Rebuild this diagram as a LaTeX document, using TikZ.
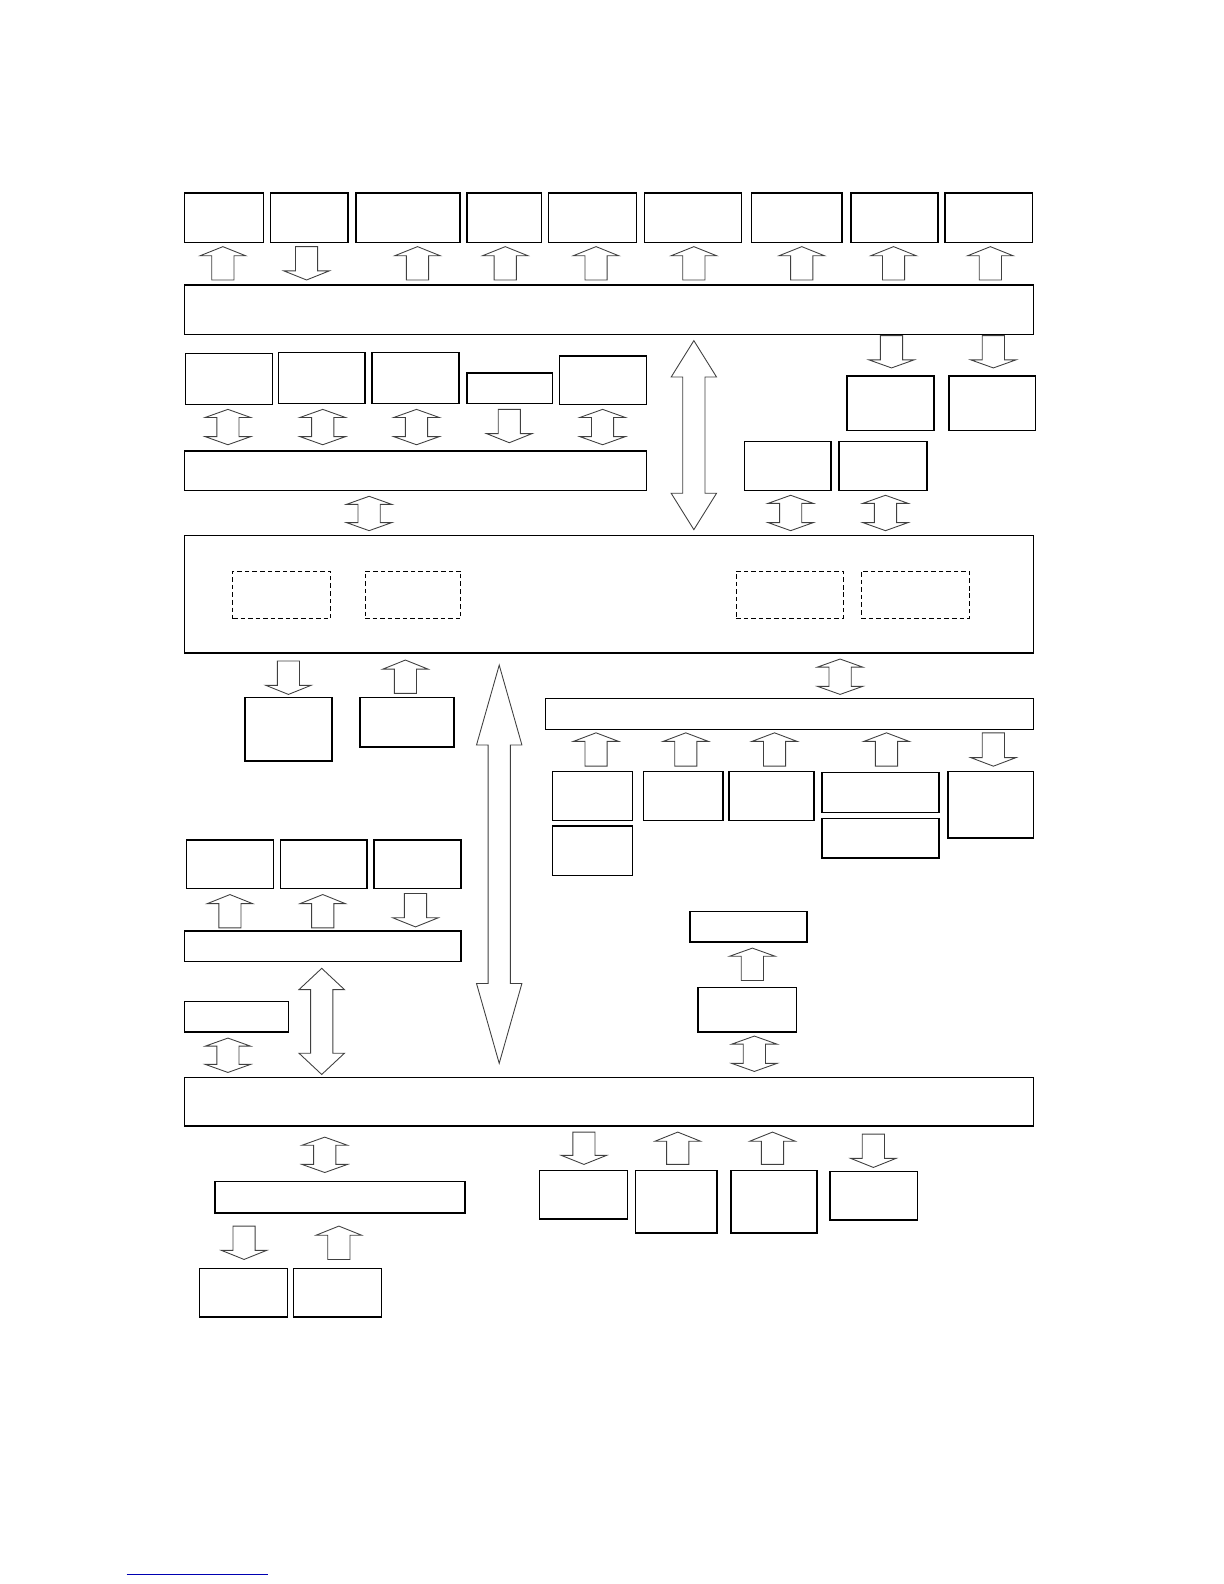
\documentclass[tikz,border=0pt]{standalone}
\usepackage{tikz}
\usetikzlibrary{fit}

\tikzset{
  box/.style={draw, line width=0.8pt, inner sep=0pt},
  dbox/.style={draw, line width=0.6pt, dash pattern=on 2.6pt off 1.7pt, inner sep=0pt},
  blockarrow/.style={draw=black!75, line width=0.5pt, fill=white, line join=miter},
  pics/up arrow/.style args={#1/#2}{code={
    \draw[blockarrow] (-11,0) -- (-11,-#1+#2) -- (-22.5,-#1+#2) -- (0,-#1)
      -- (22.5,-#1+#2) -- (11,-#1+#2) -- (11,0) -- cycle;}},
  pics/down arrow/.style args={#1/#2}{code={
    \draw[blockarrow] (-11,0) -- (-11,#1-#2) -- (-22.5,#1-#2) -- (0,#1)
      -- (22.5,#1-#2) -- (11,#1-#2) -- (11,0) -- cycle;}},
  pics/both arrow/.style args={#1/#2}{code={
    \draw[blockarrow] (0,0) -- (22.5,#2) -- (11,#2) -- (11,#1-#2) -- (22.5,#1-#2)
      -- (0,#1) -- (-22.5,#1-#2) -- (-11,#1-#2) -- (-11,#2) -- (-22.5,#2) -- cycle;}}
}

\begin{document}
\begin{tikzpicture}[x=0.020174cm, y=-0.020216cm]

  \useasboundingbox (0,0) rectangle (1213.4,1567.1);

  % top row
  \node[box, fit={(183,191) (261,240)}] (top1) {};
  \node[box, fit={(268,191) (345,240)}] (top2) {};
  \node[box, fit={(353,191) (456,240)}] (top3) {};
  \node[box, fit={(463,191) (537,240)}] (top4) {};
  \node[box, fit={(544,191) (631,240)}] (top5) {};
  \node[box, fit={(639,191) (735,240)}] (top6) {};
  \node[box, fit={(745,191) (835,240)}] (top7) {};
  \node[box, fit={(844,191) (930,240)}] (top8) {};
  \node[box, fit={(937,191) (1024,240)}] (top9) {};

  \foreach \x in {221,414,501,591,688,795,886,982}
    \pic at (\x,277) {up arrow=33/9};
  \pic at (304,244) {down arrow=33/9};

  \node[box, fit={(183,282) (1025,331)}] (bus1) {};

  % second row
  \node[box, fit={(184,350) (270,400)}] (mid1) {};
  \node[box, fit={(276,349) (362,399)}] (mid2) {};
  \node[box, fit={(369,349) (455,399)}] (mid3) {};
  \node[box, fit={(463,369) (548,399)}] (mid4) {};
  \node[box, fit={(555,352) (641,400)}] (mid5) {};

  \foreach \x in {226,320,413,597.5}
    \pic at (\x,405) {both arrow=35/8};
  \pic at (505,405) {down arrow=33/9};

  \node[box, fit={(183,446) (641,485)}] (bus2) {};
  \pic at (366,491) {both arrow=34/8};

  \pic at (688,337) {both arrow=187/36};

  % right of the long arrow
  \pic at (884,332) {down arrow=32/8};
  \pic at (985,332) {down arrow=32/8};
  \node[box, fit={(840,372) (926,426)}] (side1) {};
  \node[box, fit={(941,372) (1027,426)}] (side2) {};
  \node[box, fit={(738,437) (824,485)}] (side3) {};
  \node[box, fit={(832,437) (919,485)}] (side4) {};
  \pic at (784,490) {both arrow=35/8};
  \pic at (878,490) {both arrow=35/8};

  % core
  \node[box, fit={(183,530) (1025,646)}] (core) {};
  \node[dbox, fit={(231,565) (328,612)}] (unit1) {};
  \node[dbox, fit={(362,565) (457,612)}] (unit2) {};
  \node[dbox, fit={(730,565) (836,612)}] (unit3) {};
  \node[dbox, fit={(854,565) (961,612)}] (unit4) {};

  \pic at (286,654) {down arrow=33/9};
  \pic at (402,686) {up arrow=33/9};
  \node[box, fit={(243,690) (329,753)}] (out1) {};
  \node[box, fit={(357,690) (450,739)}] (in1) {};

  \pic at (495,658) {both arrow=394/79};

  % right branch
  \pic at (833,652) {both arrow=35/8};
  \node[box, fit={(541,691) (1025,722)}] (bus3) {};
  \foreach \x in {591,680,768,879}
    \pic at (\x,758) {up arrow=33/8.5};
  \pic at (985,725) {down arrow=33/8.5};
  \node[box, fit={(548,763) (627,812)}] (dev1) {};
  \node[box, fit={(548,817) (627,866)}] (dev2) {};
  \node[box, fit={(638,763) (717,812)}] (dev3) {};
  \node[box, fit={(723,763) (807,812)}] (dev4) {};
  \node[box, fit={(815,764) (931,804)}] (dev5) {};
  \node[box, fit={(815,810) (931,849)}] (dev6) {};
  \node[box, fit={(940,763) (1025,829)}] (dev7) {};

  % left branch
  \node[box, fit={(185,831) (271,879)}] (low1) {};
  \node[box, fit={(278,831) (364,879)}] (low2) {};
  \node[box, fit={(371,831) (457,879)}] (low3) {};
  \pic at (228,918) {up arrow=33/9};
  \pic at (320,918) {up arrow=33/9};
  \pic at (412,884) {down arrow=33/9};
  \node[box, fit={(183,921) (457,951)}] (bus4) {};
  \node[box, fit={(183,991) (286,1021)}] (aux) {};
  \pic at (226,1027) {both arrow=34/8};
  \pic at (319,958) {both arrow=105/21};

  % centre
  \node[box, fit={(684,902) (800,932)}] (cen1) {};
  \pic at (746,970) {up arrow=32/8};
  \node[box, fit={(692,977) (790,1021)}] (cen2) {};
  \pic at (748,1025) {both arrow=35/8};

  \node[box, fit={(183,1066) (1025,1114)}] (bus5) {};

  % bottom
  \pic at (322,1125) {both arrow=35/8};
  \node[box, fit={(213,1169) (461,1200)}] (bus6) {};
  \pic at (242,1213) {down arrow=33/9};
  \pic at (336,1246) {up arrow=33/9};
  \node[box, fit={(198,1255) (285,1303)}] (end1) {};
  \node[box, fit={(291,1255) (378,1303)}] (end2) {};

  \pic at (579,1120) {down arrow=32/9};
  \pic at (672,1152) {up arrow=32/9};
  \pic at (766,1152) {up arrow=32/9};
  \pic at (866,1122) {down arrow=33/9};
  \node[box, fit={(535,1158) (622,1206)}] (port1) {};
  \node[box, fit={(630,1158) (711,1220)}] (port2) {};
  \node[box, fit={(725,1158) (810,1220)}] (port3) {};
  \node[box, fit={(823,1159) (910,1207)}] (port4) {};

  % footnote rule
  \coordinate (fn1) at (125.5,1558);
  \coordinate (fn2) at (265.3,1558);
  \draw[line width=0.6pt, blue!70!black] (fn1) -- (fn2);

\end{tikzpicture}
\end{document}
